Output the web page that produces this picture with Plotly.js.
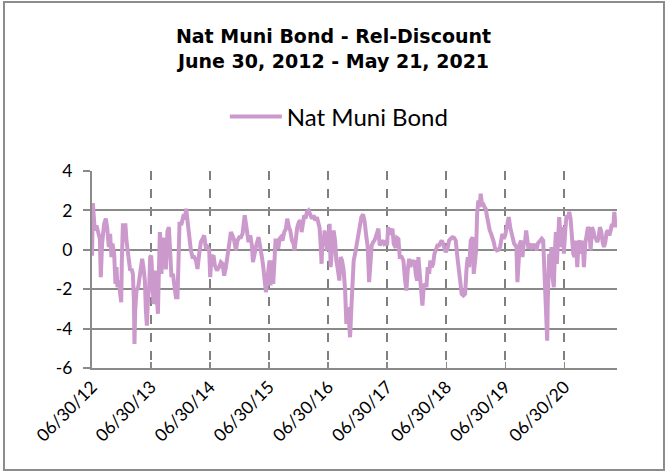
<!DOCTYPE html>
<html>
<head>
<meta charset="utf-8">
<script src="https://cdn.plot.ly/plotly-3.0.1.min.js"></script>
<style>
  html, body { margin: 0; padding: 0; background: #ffffff; }
  #chart { width: 667px; height: 471px; }
</style>
</head>
<body>
<div id="chart"></div>
<script>
// ---- Data ----
const chartTitle = "Nat Muni Bond - Rel-Discount<br>June 30, 2012 - May 21, 2021";
const seriesName = "Nat Muni Bond";

// observation times as decimal years
const decYears = [
2012.496,2012.508,2012.542,2012.569,2012.598,2012.627,2012.643,2012.665,2012.699,2012.728,
2012.750,2012.779,2012.801,2012.823,2012.840,2012.869,2012.891,2012.908,2012.925,2012.949,
2012.971,2012.988,2012.999,2013.016,2013.038,2013.060,2013.077,2013.094,2013.118,2013.140,
2013.162,2013.186,2013.203,2013.213,2013.225,2013.247,2013.276,2013.298,2013.321,2013.343,
2013.365,2013.389,2013.406,2013.423,2013.440,2013.462,2013.479,2013.496,2013.513,2013.535,
2013.552,2013.569,2013.593,2013.610,2013.627,2013.643,2013.660,2013.671,2013.688,2013.716,
2013.745,2013.772,2013.796,2013.818,2013.840,2013.864,2013.886,2013.915,2013.942,2013.959,
2013.976,2014.010,2014.038,2014.067,2014.089,2014.111,2014.140,2014.169,2014.196,2014.225,
2014.254,2014.281,2014.310,2014.338,2014.366,2014.394,2014.423,2014.450,2014.479,2014.496,
2014.518,2014.552,2014.576,2014.610,2014.649,2014.677,2014.705,2014.733,2014.762,2014.789,
2014.818,2014.847,2014.874,2014.903,2014.932,2014.959,2014.988,2015.016,2015.044,2015.081,
2015.118,2015.145,2015.174,2015.203,2015.220,2015.242,2015.276,2015.315,2015.343,2015.372,
2015.389,2015.416,2015.440,2015.462,2015.484,2015.501,2015.518,2015.542,2015.564,2015.586,
2015.603,2015.627,2015.649,2015.671,2015.694,2015.721,2015.750,2015.779,2015.801,2015.830,
2015.852,2015.881,2015.908,2015.925,2015.949,2015.971,2015.999,2016.027,2016.044,2016.067,
2016.089,2016.111,2016.135,2016.162,2016.191,2016.220,2016.247,2016.276,2016.304,2016.332,
2016.349,2016.366,2016.382,2016.399,2016.416,2016.433,2016.450,2016.474,2016.496,2016.518,
2016.535,2016.559,2016.586,2016.610,2016.632,2016.660,2016.682,2016.705,2016.728,2016.755,
2016.779,2016.801,2016.818,2016.840,2016.864,2016.886,2016.903,2016.925,2016.949,2016.971,
2016.999,2017.027,2017.055,2017.084,2017.111,2017.140,2017.162,2017.186,2017.208,2017.230,
2017.254,2017.276,2017.298,2017.321,2017.343,2017.365,2017.389,2017.411,2017.440,2017.467,
2017.491,2017.508,2017.530,2017.552,2017.581,2017.603,2017.637,2017.660,2017.682,2017.705,
2017.738,2017.767,2017.796,2017.818,2017.840,2017.864,2017.886,2017.908,2017.932,2017.954,
2017.976,2017.999,2018.021,2018.044,2018.067,2018.089,2018.111,2018.135,2018.157,2018.179,
2018.203,2018.225,2018.247,2018.271,2018.293,2018.315,2018.343,2018.372,2018.394,2018.416,
2018.440,2018.462,2018.484,2018.513,2018.542,2018.569,2018.598,2018.627,2018.654,2018.682,
2018.711,2018.733,2018.755,2018.784,2018.813,2018.835,2018.857,2018.881,2018.908,2018.942,
2018.959,2018.982,2018.999,2019.016,2019.038,2019.060,2019.077,2019.094,2019.118,2019.140,
2019.162,2019.186,2019.208,2019.230,2019.254,2019.276,2019.298,2019.321,2019.349,2019.377,
2019.406,2019.423,2019.445,2019.467,2019.491,2019.513,2019.535,2019.552,2019.576,2019.598,
2019.620,2019.643,2019.666,2019.682,2019.699,2019.716,2019.738,2019.762,2019.784,2019.806,
2019.830,2019.847,2019.864,2019.886,2019.908,2019.932,2019.954,2019.976,2019.999,2020.021,
2020.044,2020.067,2020.089,2020.111,2020.135,2020.152,2020.169,2020.186,2020.203,2020.213,
2020.237,2020.254,2020.276,2020.293,2020.315,2020.332,2020.349,2020.366,2020.382,2020.406,
2020.428,2020.445,2020.462,2020.484,2020.508,2020.530,2020.552,2020.576,2020.598,2020.620,
2020.643,2020.666,2020.688,2020.711,2020.733,2020.755,2020.779,2020.801,2020.823,2020.847,
2020.869,2020.891,2020.915,2020.937,2020.959,2020.982,2021.005,2021.027,2021.050,2021.072,
2021.094,2021.118,2021.140,2021.162,2021.186,2021.208,2021.230,2021.254,2021.276,2021.298,
2021.321,2021.338,2021.360,2021.377,2021.386
];

// Rel-Discount values
const relDiscount = [
-0.30,2.37,0.98,1.24,0.90,0.56,-1.39,0.31,1.32,1.58,
1.15,0.14,0.81,-0.37,0.31,-0.20,-1.73,-0.88,-1.90,-1.56,
-2.24,-2.66,-0.54,1.24,1.24,1.24,0.47,-0.03,-0.54,-1.05,
-0.97,-1.22,-2.58,-4.78,-3.08,-2.07,-1.90,-1.39,-1.05,-0.46,
-0.88,-1.56,-3.08,-3.85,-2.58,-1.90,-0.37,-0.29,-1.22,-2.75,
-2.58,-1.05,-2.41,-3.25,-1.05,0.90,0.31,-1.22,0.56,0.50,
-1.00,0.95,1.15,0.14,-1.39,-1.22,-1.90,-2.41,-2.41,0.14,
1.32,1.32,1.66,1.58,2.08,1.49,0.64,-0.03,-0.37,-0.37,
-0.54,-0.97,-0.20,0.39,0.56,0.73,0.05,0.14,-0.03,-1.39,
-0.37,-0.29,-0.80,-1.05,-0.88,-0.63,-0.71,-1.31,-0.88,-0.37,
0.14,0.90,0.73,0.47,-0.03,0.47,0.64,0.64,0.81,1.75,
0.98,0.39,0.73,0.22,-0.63,-0.20,0.22,0.64,-0.03,-0.37,
-0.71,-1.73,-2.15,-1.56,-0.71,-0.54,-1.81,-0.54,-1.73,-0.37,
0.47,0.47,0.05,0.56,0.64,0.47,0.90,1.07,1.58,1.15,
0.98,0.47,0.31,-0.03,0.73,1.15,1.41,1.49,0.90,1.41,
1.75,1.58,1.92,2.00,1.83,1.58,1.75,1.49,1.66,1.32,
1.10,0.31,-0.71,0.64,0.22,0.98,0.31,-0.03,0.47,1.32,
-0.88,0.14,0.98,0.47,-0.54,-1.05,-1.56,-0.37,-0.54,-1.05,
-1.98,-3.76,-2.92,-3.42,-4.44,-2.92,-1.56,-0.54,-0.20,0.14,
0.56,1.24,1.66,1.80,1.41,0.64,0.14,-1.64,-0.54,0.22,
0.39,0.47,0.64,0.90,1.07,0.22,0.31,0.47,0.31,0.39,
0.22,1.15,0.90,0.85,1.07,0.30,0.10,0.60,0.55,-0.37,
-0.37,-0.54,-1.56,-2.07,-1.05,-0.46,-0.88,-0.54,-0.63,-0.54,
-1.22,-1.56,-0.37,-1.22,-2.07,-2.83,-1.90,-1.73,-1.90,-0.88,
-1.22,-0.54,-0.88,-0.71,-0.20,-0.03,0.22,0.22,0.39,0.47,
0.31,-0.03,-0.12,0.05,0.47,0.56,0.64,0.61,0.47,-0.37,
-1.05,-1.90,-2.24,-2.32,-2.24,-1.05,-0.37,-0.88,0.47,0.64,
-1.22,-0.54,-0.03,1.83,2.51,2.17,2.85,2.42,2.34,2.17,
2.08,1.66,1.15,0.98,0.81,0.64,0.39,0.05,-0.03,0.00,
0.14,0.47,0.81,0.56,0.73,1.07,1.32,1.66,1.15,0.81,
0.47,0.31,0.22,0.14,-1.64,-0.54,0.31,0.47,-0.37,0.31,
0.47,0.98,0.47,0.05,0.22,0.14,0.31,0.05,0.31,-0.03,
0.31,0.39,0.47,0.56,0.47,-0.71,-1.90,-3.42,-4.61,-2.58,
-0.20,-0.88,0.14,-1.39,-1.90,-0.20,0.90,-0.71,0.64,1.66,
0.64,0.14,1.15,-0.20,0.98,1.75,1.58,1.92,1.58,0.81,
-0.20,-0.37,0.47,-0.88,0.31,0.47,-0.20,0.47,-0.88,0.31,
0.81,1.15,0.98,-0.03,1.15,0.98,0.64,0.56,0.39,0.64,
1.15,0.90,0.39,0.14,0.39,0.90,0.98,0.73,0.98,1.32,
1.15,1.92,1.15,1.32,1.49
];

// x-axis ticks
const tickDates  = ["2012-06-30","2013-06-30","2014-06-30","2015-06-30","2016-06-30",
                    "2017-06-30","2018-06-30","2019-06-30","2020-06-30"];
const tickLabels = ["06/30/12","06/30/13","06/30/14","06/30/15","06/30/16",
                    "06/30/17","06/30/18","06/30/19","06/30/20"];
const xStart = "2012-06-30";
const xEnd   = "2021-05-21";
const yTicks = [-6, -4, -2, 0, 2, 4];

// decimal year -> Date
function decToDate(d) {
  const y = Math.floor(d);
  const s = Date.UTC(y, 0, 1), e = Date.UTC(y + 1, 0, 1);
  return new Date(s + (d - y) * (e - s));
}
const dates = decYears.map(decToDate);

const gridGray = "#8a8a8a";

const trace = {
  x: dates,
  y: relDiscount,
  type: "scatter",
  mode: "lines",
  name: seriesName,
  line: { color: "#cc99cc", width: 4 },
  hoverinfo: "x+y"
};

const layout = {
  width: 667,
  height: 471,
  margin: { l: 92, r: 50, t: 171, b: 103, pad: 0 },
  paper_bgcolor: "#ffffff",
  plot_bgcolor: "#ffffff",
  title: {
    text: chartTitle,
    font: { family: "DejaVu Sans, Liberation Sans, sans-serif", size: 19, color: "#000000", weight: "bold" },
    x: 0.5, xanchor: "center",
    y: 0.908, yref: "container", yanchor: "top"
  },
  showlegend: true,
  legend: {
    orientation: "h",
    x: 0.253, xanchor: "left",
    y: 1.274, yanchor: "middle",
    font: { family: "Lato, Open Sans, sans-serif", size: 24, color: "#000000" },
    bgcolor: "rgba(0,0,0,0)",
    itemwidth: 52
  },
  xaxis: {
    type: "date",
    range: [xStart, xEnd],
    tickmode: "array",
    tickvals: tickDates,
    ticktext: tickLabels,
    tickangle: -45,
    tickfont: { family: "Lato, Open Sans, sans-serif", size: 17.5, color: "#000000" },
    showgrid: true,
    gridcolor: "#7f7f7f",
    gridwidth: 2,
    griddash: "dash",
    showline: true,
    linecolor: gridGray,
    linewidth: 2,
    ticks: "inside",
    ticklen: 6,
    tickcolor: gridGray,
    tickwidth: 1.5,
    zeroline: false,
    fixedrange: true
  },
  yaxis: {
    range: [-6, 4],
    tickmode: "array",
    tickvals: yTicks,
    ticktext: yTicks.map(String),
    tickfont: { family: "Lato, Open Sans, sans-serif", size: 17.5, color: "#000000" },
    showgrid: true,
    gridcolor: gridGray,
    gridwidth: 2,
    showline: true,
    linecolor: gridGray,
    linewidth: 2,
    ticks: "outside",
    ticklen: 7,
    tickcolor: gridGray,
    tickwidth: 2,
    ticklabelstandoff: 7,
    zeroline: false,
    fixedrange: true
  },
  shapes: [{
    type: "rect",
    xref: "paper", yref: "paper",
    x0: -0.1676, x1: 1.0895,
    y0: -0.5178, y1: 1.8579,
    line: { color: "#8c8c8c", width: 2 },
    fillcolor: "rgba(0,0,0,0)",
    layer: "below"
  }]
};

Plotly.newPlot("chart", [trace], layout, { displayModeBar: false, staticPlot: true });
</script>
</body>
</html>
